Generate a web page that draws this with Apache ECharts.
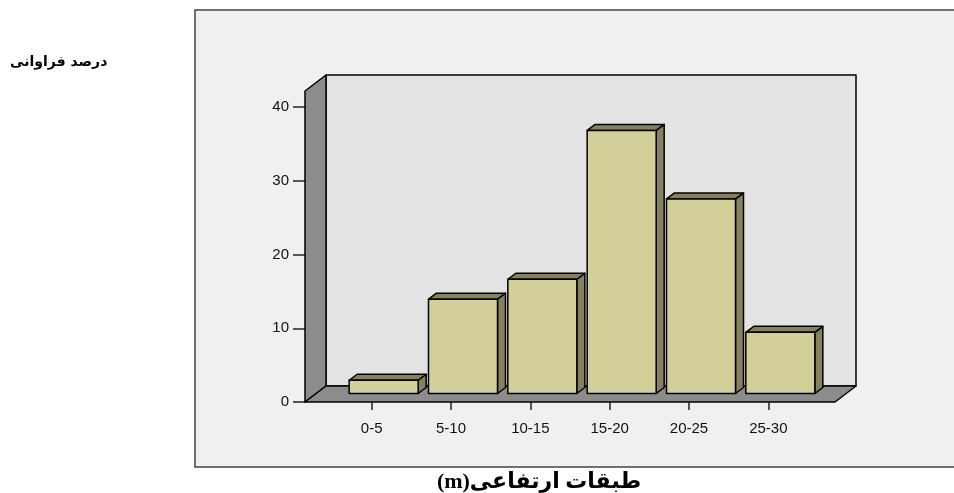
<!DOCTYPE html>
<html>
<head>
<meta charset="utf-8">
<script src="https://cdn.jsdelivr.net/npm/echarts@6/dist/echarts.min.js"></script>
<style>
  html, body { margin: 0; background: #fff; }
  #chart { width: 954px; height: 493px; }
</style>
</head>
<body>
<div id="chart"></div>
<script>
const categories = ['0-5', '5-10', '10-15', '15-20', '20-25', '25-30']
const percentValues = [1.8, 12.8, 15.5, 35.7, 26.4, 8.3]
const yTicks = [0, 10, 20, 30, 40]
const yTitle = 'درصد فراوانی'
const xTitle = '\u202Bطبقات ارتفاعی(m)\u202C'

// 3d look (px): depth of the box, padding of the floor, bar offset and bar depth
const DEPTH_X = 21, DEPTH_Y = 16
const PAD = 27
const BAR_OFF_X = 12, BAR_OFF_Y = 8.5
const BAR_DX = 8, BAR_DY = 6

const edge = { stroke: '#000', lineWidth: 1.5, lineJoin: 'round' }
const tickFont = { fontSize: 15, color: '#111', fontFamily: 'Liberation Sans, Arial, sans-serif' }

const renderWalls = (params) => {
  const cs = params.coordSys
  const x0 = cs.x - PAD
  const x1 = cs.x + cs.width + PAD
  const yTop = cs.y
  const yBase = cs.y + cs.height
  return {
    type: 'group',
    children: [
      {
        type: 'rect',
        shape: { x: x0 + DEPTH_X, y: yTop - DEPTH_Y, width: x1 - x0, height: yBase - yTop },
        style: { fill: '#e3e3e3', ...edge }
      },
      {
        type: 'polygon',
        shape: { points: [[x0, yBase], [x0, yTop], [x0 + DEPTH_X, yTop - DEPTH_Y], [x0 + DEPTH_X, yBase - DEPTH_Y]] },
        style: { fill: '#8c8c8c', ...edge }
      },
      {
        type: 'polygon',
        shape: { points: [[x0, yBase], [x1, yBase], [x1 + DEPTH_X, yBase - DEPTH_Y], [x0 + DEPTH_X, yBase - DEPTH_Y]] },
        style: { fill: '#8c8c8c', ...edge }
      }
    ]
  }
}

const renderBar = (params, api) => {
  const top = api.coord([api.value(0), api.value(1)])
  const base = api.coord([api.value(0), 0])
  const w = api.size([1, 0])[0] * 0.87
  const l = top[0] - w / 2 + BAR_OFF_X
  const r = l + w
  const t = top[1] - BAR_OFF_Y
  const b = base[1] - BAR_OFF_Y
  return {
    type: 'group',
    children: [
      {
        type: 'polygon',
        shape: { points: [[r, b], [r, t], [r + BAR_DX, t - BAR_DY], [r + BAR_DX, b - BAR_DY]] },
        style: { fill: '#858160', ...edge }
      },
      {
        type: 'polygon',
        shape: { points: [[l, t], [r, t], [r + BAR_DX, t - BAR_DY], [l + BAR_DX, t - BAR_DY]] },
        style: { fill: '#858160', ...edge }
      },
      {
        type: 'rect',
        shape: { x: l, y: t, width: w, height: b - t },
        style: { fill: '#d3cf99', ...edge }
      }
    ]
  }
}

const chart = echarts.init(document.getElementById('chart'))

chart.setOption({
  animation: false,
  backgroundColor: '#fff',
  graphic: [
    {
      type: 'rect',
      z: 0,
      shape: { x: 195, y: 10, width: 800, height: 457 },
      style: { fill: '#f0f0f0', stroke: '#444', lineWidth: 1.5 }
    },
    {
      type: 'text',
      z: 10,
      left: 10,
      top: 55,
      style: { text: yTitle, fontSize: 14, fontWeight: 'bold', fontFamily: 'DejaVu Sans', fill: '#000' }
    },
    {
      type: 'text',
      z: 10,
      x: 539,
      y: 471,
      style: {
        text: xTitle, fontSize: 22, fontWeight: 'bold', fontFamily: 'Liberation Serif, DejaVu Sans, serif',
        fill: '#000', textAlign: 'center', textVerticalAlign: 'top'
      }
    }
  ],
  grid: { left: 332, right: 146, top: 91, bottom: 91 },
  xAxis: {
    type: 'category',
    data: categories,
    axisLine: { show: false },
    axisTick: { show: true, alignWithLabel: true, length: 8, lineStyle: { color: '#222', width: 1.5 } },
    axisLabel: { margin: 19, ...tickFont },
    z: 5
  },
  yAxis: {
    type: 'value',
    min: 0,
    max: 42.2,
    interval: 10,
    offset: PAD,
    axisLine: { show: false },
    axisTick: { show: true, length: 12, customValues: yTicks, lineStyle: { color: '#222', width: 1.5 } },
    axisLabel: { margin: 16, customValues: yTicks, ...tickFont },
    splitLine: { show: false }
  },
  series: [
    {
      type: 'custom',
      name: 'walls',
      silent: true,
      clip: false,
      z: 1,
      renderItem: renderWalls,
      data: [[0, 0]]
    },
    {
      type: 'custom',
      name: 'درصد',
      silent: true,
      clip: false,
      z: 3,
      renderItem: renderBar,
      encode: { x: 0, y: 1 },
      data: percentValues.map((v, i) => [i, v])
    }
  ]
})

window.addEventListener('resize', () => chart.resize())
</script>
</body>
</html>
